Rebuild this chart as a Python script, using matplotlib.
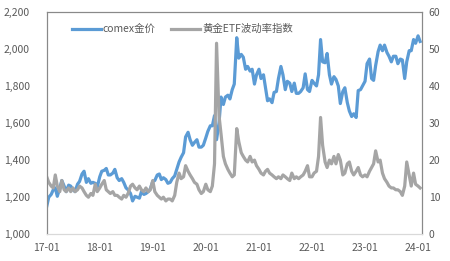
import matplotlib
matplotlib.use("Agg")
import matplotlib.pyplot as plt
import matplotlib.dates as mdates
from matplotlib.ticker import FuncFormatter, MultipleLocator
import pandas as pd

plt.rcParams['font.family'] = ['Noto Sans CJK SC', 'DejaVu Sans']

# semi-monthly sample dates (1st and 15th), 2017-01 .. 2024-01
dates = pd.date_range('2017-01-01', periods=170, freq='SMS')

gold_label = 'comex金价'
vol_label = '黄金ETF波动率指数'

gold = [
    # 2017
    1150, 1200, 1215, 1240, 1250, 1205, 1250, 1290, 1260, 1230, 1265, 1260,
    1240, 1230, 1270, 1285, 1325, 1340, 1280, 1300, 1275, 1280, 1275, 1255,
    # 2018
    1310, 1340, 1345, 1355, 1320, 1320, 1330, 1350, 1305, 1290, 1300, 1280,
    1250, 1240, 1220, 1180, 1205, 1200, 1195, 1230, 1215, 1220, 1230, 1245,
    # 2019
    1285, 1290, 1320, 1325, 1295, 1305, 1295, 1275, 1280, 1300, 1315, 1350,
    1390, 1415, 1440, 1525, 1550, 1510, 1480, 1495, 1510, 1470, 1470, 1480,
    # 2020
    1520, 1555, 1585, 1585, 1640, 1510, 1600, 1740, 1700, 1740, 1750, 1730,
    1780, 1810, 2060, 1950, 1970, 1955, 1890, 1905, 1880, 1890, 1810, 1860,
    # 2021
    1890, 1840, 1860, 1790, 1720, 1730, 1710, 1765, 1770, 1840, 1905, 1860,
    1780, 1825, 1815, 1770, 1815, 1760, 1760, 1770, 1790, 1865, 1780, 1770,
    # 2022
    1830, 1815, 1800, 1860, 2050, 1930, 1925, 1975, 1860, 1810, 1850, 1835,
    1800, 1705, 1770, 1790, 1710, 1665, 1635, 1650, 1630, 1775, 1780, 1800,
    # 2023
    1825, 1920, 1945, 1840, 1830, 1910, 1985, 2020, 1990, 2020, 1980, 1960,
    1930, 1960, 1960, 1920, 1945, 1940, 1840, 1930, 1990, 1990, 2050, 2030,
    # 2024
    2070, 2040,
]

vol = [
    # 2017
    15.5, 14, 13, 12.5, 16, 13, 11.5, 14.5, 12, 11.5, 12.5, 11.5,
    12.5, 11.5, 12, 13, 12.5, 11.5, 10.5, 10, 11, 10.5, 13.5, 11.5,
    # 2018
    12.5, 13.5, 14.5, 12, 11.5, 11, 11.5, 10.5, 10.5, 10, 9.5, 10.5,
    10, 11, 13, 13.5, 12.5, 12, 13, 12, 11.5, 12.5, 11.5, 12,
    # 2019
    14.5, 11.5, 10.5, 10, 9.5, 10, 9, 9.5, 9.5, 9, 10.5, 14,
    16.5, 15, 15.5, 18.5, 17, 16, 15, 14, 13.5, 12, 11, 11.5,
    # 2020
    13.5, 12, 11.5, 13, 19, 51.5, 32, 27, 21, 19, 17.5, 16.5,
    15.5, 16, 28.5, 25, 22, 21, 20, 19.5, 21, 19.5, 20, 18.5,
    # 2021
    17.5, 16.5, 16, 17, 17.5, 16.5, 16, 15.5, 15, 15.5, 15, 16,
    15.5, 15, 14.5, 16.5, 15, 15.5, 15, 15.5, 16, 17, 18.5, 15.5,
    # 2022
    15.5, 16.5, 17, 21, 31.5, 24, 19.5, 18, 20, 19, 21, 19,
    21.5, 20, 16, 16.5, 19, 19.5, 17, 16, 17, 18, 16, 15.5,
    # 2023
    16, 15.5, 17, 18, 19, 22.5, 19.5, 20, 16.5, 15, 14, 13,
    12.5, 12.5, 12, 12, 11.5, 10.5, 13, 19.5, 16, 13, 16.5, 13.5,
    # 2024
    13, 12.5,
]

blue = '#5B9BD5'
grey = '#A5A5A5'
txt = '#595959'

fig = plt.figure(figsize=(4.5, 2.61), dpi=100)
ax = fig.add_axes([0.1038, 0.1023, 0.8333, 0.8527])
ax2 = ax.twinx()

l1, = ax.plot(dates, gold, color=blue, lw=2.3, solid_joinstyle='round', label=gold_label)
l2, = ax2.plot(dates, vol, color=grey, lw=2.3, solid_joinstyle='round', label=vol_label)

ax.set_xlim(pd.Timestamp('2017-01-01'), pd.Timestamp('2024-01-26'))
ax.set_ylim(1000, 2200)
ax2.set_ylim(0, 60)
ax.yaxis.set_major_locator(MultipleLocator(200))
ax2.yaxis.set_major_locator(MultipleLocator(10))
ax.yaxis.set_major_formatter(FuncFormatter(lambda v, p: f'{v:,.0f}'))
ax.xaxis.set_major_locator(mdates.YearLocator())
ax.xaxis.set_major_formatter(mdates.DateFormatter('%y-%m'))

for a in (ax, ax2):
    a.tick_params(length=0, labelsize=7.5, colors=txt)
    for s in a.spines.values():
        s.set_color('#898989')
        s.set_linewidth(0.8)
    a.spines['bottom'].set_color('#D9D9D9')
ax.tick_params(axis='y', pad=12)
ax2.tick_params(axis='y', pad=5)
ax.tick_params(axis='x', pad=6)

leg = ax2.legend(handles=[l1, l2], loc='center left', bbox_to_anchor=(0.055, 0.922),
                 ncol=2, frameon=False, fontsize=7.5, handlelength=2.8,
                 columnspacing=1.5, handletextpad=0.2, borderaxespad=0)
for t in leg.get_texts():
    t.set_color(txt)

fig.savefig('out.png', dpi=100)
